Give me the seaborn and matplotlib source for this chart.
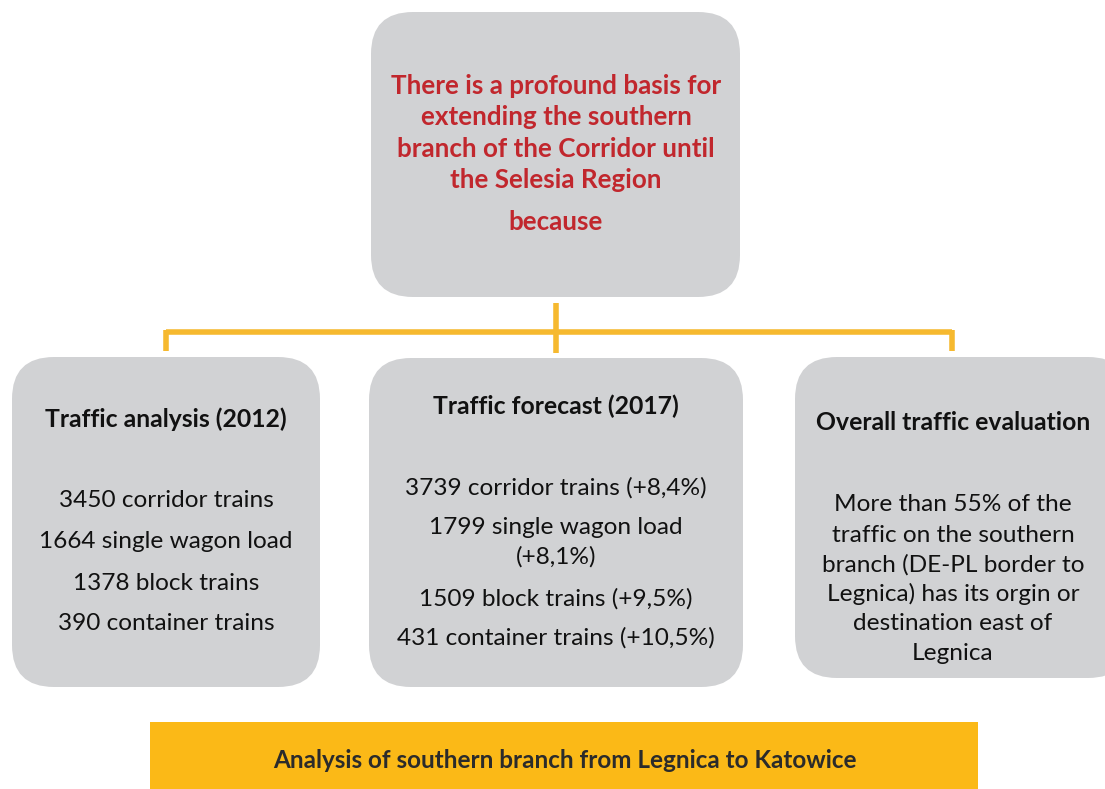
import matplotlib.pyplot as plt
import seaborn as sns
from matplotlib.patches import FancyBboxPatch, Rectangle

sns.set_theme(style="white")
plt.rcParams['font.family'] = ['Lato', 'DejaVu Sans']

# contenido del diagrama
top_lines = ["There is a profound basis for", "extending the southern",
             "branch of the Corridor until", "the Selesia Region"]
top_extra = "because"

titles = ["Traffic analysis (2012)", "Traffic forecast (2017)", "Overall traffic evaluation"]
left_lines = ["3450 corridor trains", "1664 single wagon load", "1378 block trains", "390 container trains"]
mid_lines = ["3739 corridor trains (+8,4%)", "1799 single wagon load", "(+8,1%)",
             "1509 block trains (+9,5%)", "431 container trains (+10,5%)"]
right_lines = ["More than 55% of the", "traffic on the southern", "branch (DE-PL border to",
               "Legnica) has its orgin or", "destination east of", "Legnica"]
bottom_text = "Analysis of southern branch from Legnica to Katowice"

gris = "#D1D2D4"
amarillo = "#F6B92F"
rojo = "#C1272D"

fig = plt.figure(figsize=(11.05, 7.89), dpi=100)
ax = fig.add_axes([0, 0, 1, 1])
ax.set_xlim(0, 1105)
ax.set_ylim(789, 0)
ax.axis('off')


def caja(x0, y0, x1, y1, r=42):
    p = FancyBboxPatch((x0, y0), x1 - x0, y1 - y0,
                       boxstyle=f"round,pad=0,rounding_size={r}",
                       facecolor=gris, edgecolor="none", zorder=1)
    ax.add_patch(p)


# cajas
caja(371, 12, 740, 297)
caja(12, 357, 320, 687)
caja(369, 358, 743, 687)
caja(795, 357, 1130, 678)

# conectores
lw = 4
ax.plot([166, 952], [332, 332], color=amarillo, lw=lw, solid_capstyle='butt', zorder=2)
ax.plot([556, 556], [303, 353], color=amarillo, lw=lw, solid_capstyle='butt', zorder=2)
ax.plot([166, 166], [330, 351], color=amarillo, lw=lw, solid_capstyle='butt', zorder=2)
ax.plot([952, 952], [330, 351], color=amarillo, lw=lw, solid_capstyle='butt', zorder=2)

# barra inferior
ax.add_patch(Rectangle((150, 722), 828, 67, facecolor="#FBB917", edgecolor="none", zorder=1))

# textos caja superior
for y, t in zip([86, 117, 149, 180], top_lines):
    ax.text(556, y, t, ha='center', va='center', fontsize=18.7, fontweight='bold', color=rojo)
ax.text(556, 222, top_extra, ha='center', va='center', fontsize=18.7, fontweight='bold', color=rojo)

# titulos
ax.text(166, 419, titles[0], ha='center', va='center', fontsize=17.8, fontweight='bold', color='#111111')
ax.text(556, 406, titles[1], ha='center', va='center', fontsize=17.8, fontweight='bold', color='#111111')
ax.text(953, 422, titles[2], ha='center', va='center', fontsize=17.8, fontweight='bold', color='#111111')

for y, t in zip([500, 542, 583, 624], left_lines):
    ax.text(166, y, t, ha='center', va='center', fontsize=17.6, color='#111111')
for y, t in zip([488, 528, 557, 599, 638], mid_lines):
    ax.text(556, y, t, ha='center', va='center', fontsize=17.6, color='#111111')
for y, t in zip([504, 535, 565, 594, 624, 653], right_lines):
    ax.text(953, y, t, ha='center', va='center', fontsize=17.6, color='#111111')

ax.text(565, 760, bottom_text, ha='center', va='center', fontsize=17.5, fontweight='bold', color='#2B2B2B')

fig.savefig("out.png", dpi=100)
